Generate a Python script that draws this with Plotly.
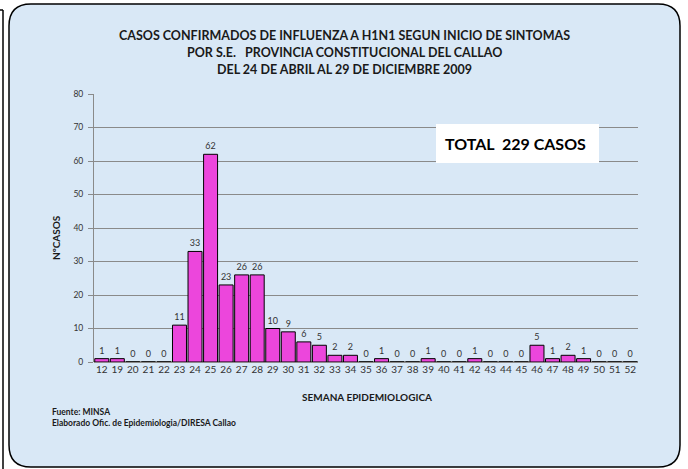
import plotly.graph_objects as go

semanas = ["12", "19", "20", "21", "22", "23", "24", "25", "26", "27", "28", "29",
           "30", "31", "32", "33", "34", "35", "36", "37", "38", "39", "40", "41",
           "42", "43", "44", "45", "46", "47", "48", "49", "50", "51", "52"]
casos = [1, 1, 0, 0, 0, 11, 33, 62, 23, 26, 26, 10,
         9, 6, 5, 2, 2, 0, 1, 0, 0, 1, 0, 0,
         1, 0, 0, 0, 5, 1, 2, 1, 0, 0, 0]
y_ticks = [0, 10, 20, 30, 40, 50, 60, 70, 80]

W, H = 688, 469
L, R, T, B = 94, 638, 94, 362
FONT = "Lato"
BG = "#d9e8f6"


def px(x):
    return (x - L) / (R - L)


def py(y):
    return (B - y) / (B - T)


fig = go.Figure()

fig.add_trace(
    go.Bar(
        x=semanas,
        y=casos,
        marker=dict(color="#ec46dc", line=dict(color="#000000", width=1)),
        text=casos,
        textposition="outside",
        textfont=dict(family=FONT, size=9, color="#333333"),
        cliponaxis=False,
    )
)

# rounded panel
x0, x1, y0, y1, r = px(9), px(680), py(4), py(467), 22
rx, ry = r / (R - L), r / (B - T)
panel = (
    f"M {x0 + rx},{y0} L {x1 - rx},{y0} Q {x1},{y0} {x1},{y0 - ry} "
    f"L {x1},{y1 + ry} Q {x1},{y1} {x1 - rx},{y1} "
    f"L {x0 + rx},{y1} Q {x0},{y1} {x0},{y1 + ry} "
    f"L {x0},{y0 - ry} Q {x0},{y0} {x0 + rx},{y0} Z"
)

shapes = [
    dict(type="path", path=panel, xref="paper", yref="paper", layer="below",
         fillcolor=BG, line=dict(color="#000000", width=1.5)),
    dict(type="line", xref="paper", yref="paper", x0=px(3), x1=px(3), y0=py(10), y1=py(469),
         line=dict(color="#000000", width=1.5)),
    dict(type="line", xref="paper", yref="paper", x0=px(0), x1=px(3), y0=py(10), y1=py(10),
         line=dict(color="#000000", width=1.5)),
    dict(type="rect", xref="paper", yref="paper", x0=px(436), x1=px(599), y0=py(124), y1=py(163),
         fillcolor="#ffffff", line=dict(width=0)),
]

title_lines = [
    "CASOS CONFIRMADOS DE INFLUENZA A H1N1 SEGUN INICIO DE SINTOMAS",
    "POR S.E.   PROVINCIA CONSTITUCIONAL DEL CALLAO",
    "DEL 24 DE ABRIL AL 29 DE DICIEMBRE 2009",
]
annotations = []
for i, line in enumerate(title_lines):
    annotations.append(dict(
        text=f"<b>{line}</b>", x=px(344), y=py(35 + 17.5 * i), xref="paper", yref="paper",
        showarrow=False, xanchor="center", yanchor="middle",
        font=dict(family=FONT, size=12.5, color="#1a1a1a"),
    ))

annotations += [
    dict(text="<b>TOTAL  229 CASOS</b>", x=px(515), y=py(143), xref="paper", yref="paper",
         showarrow=False, xanchor="center", yanchor="middle",
         font=dict(family=FONT, size=16, color="#000000")),
    dict(text="<b>SEMANA EPIDEMIOLOGICA</b>", x=px(367), y=py(397), xref="paper", yref="paper",
         showarrow=False, xanchor="center", yanchor="middle",
         font=dict(family=FONT, size=10, color="#1a1a1a")),
    dict(text="<b>NºCASOS</b>", x=px(56), y=py(238), xref="paper", yref="paper",
         showarrow=False, xanchor="center", yanchor="middle", textangle=-90,
         font=dict(family=FONT, size=10, color="#1a1a1a")),
    dict(text="<b>Fuente: MINSA<br>Elaborado Ofic. de Epidemiologia/DIRESA Callao</b>",
         x=px(50), y=py(405), xref="paper", yref="paper", align="left",
         showarrow=False, xanchor="left", yanchor="top",
         font=dict(family=FONT, size=8.5, color="#1a1a1a")),
]

fig.update_layout(
    width=W,
    height=H,
    margin=dict(l=L, r=W - R, t=T, b=H - B),
    paper_bgcolor="#ffffff",
    plot_bgcolor="rgba(0,0,0,0)",
    bargap=0.1,
    showlegend=False,
    shapes=shapes,
    annotations=annotations,
    xaxis=dict(
        type="category",
        tickfont=dict(family=FONT, size=10, color="#333333"),
        showgrid=False,
        ticks="",
        showline=False,
    ),
    yaxis=dict(
        range=[0, 80],
        tickvals=y_ticks,
        tickfont=dict(family=FONT, size=8.5, color="#333333"),
        gridcolor="#8a8a8a",
        gridwidth=1,
        zeroline=True,
        zerolinecolor="#8a8a8a",
        showline=True,
        linecolor="#8a8a8a",
        ticks="outside",
        ticklen=5,
        tickcolor="#8a8a8a",
        ticklabelstandoff=3,
    ),
)

fig.write_html(
    "out.html",
    config={"displayModeBar": False},
    post_script="document.body.style.margin = '0px';",
)
